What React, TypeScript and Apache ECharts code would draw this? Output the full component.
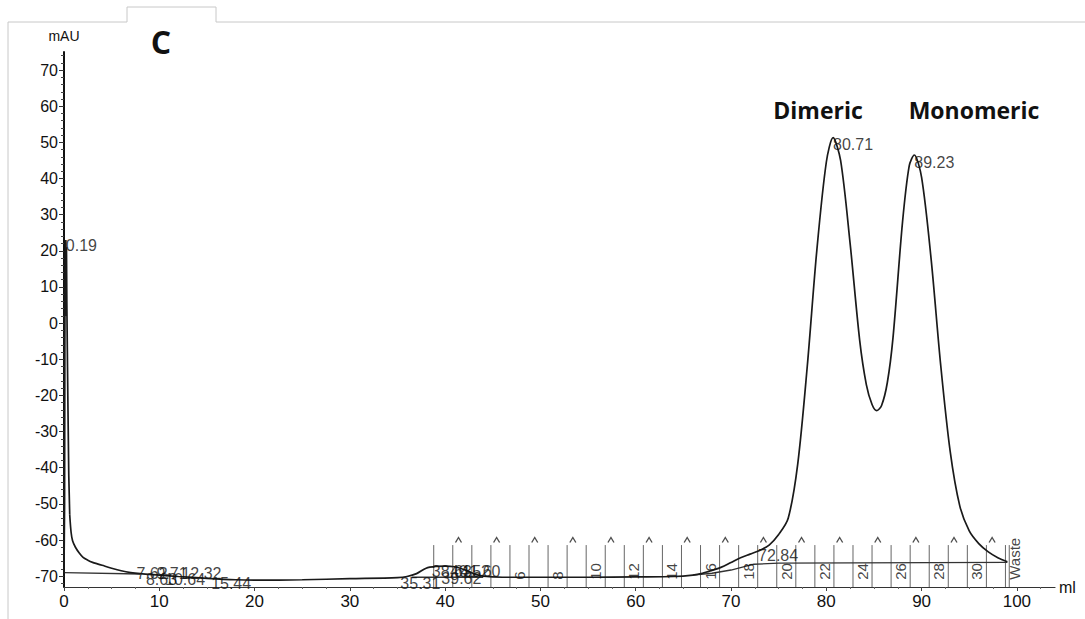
import React, { useEffect, useRef } from "react";
import * as echarts from "echarts";

// UV trace (ml, mAU)
const uvMl = [0, 0.06, 0.09, 0.12, 0.15, 0.19, 0.22, 0.26, 0.3, 0.4, 0.5, 0.6, 0.75, 0.9, 1.2, 1.6, 2, 2.5, 3, 3.5, 4, 5, 6, 7, 8, 10, 12, 15, 18, 20, 25, 30, 35, 36, 37, 38, 39, 40, 41, 42, 43, 44, 46, 50, 55, 60, 64, 66, 67, 68, 69, 70, 71, 72, 73, 74, 75, 76, 77, 78, 79, 80, 80.71, 81.5, 82.5, 83.5, 84.2, 84.8, 85.3, 85.8, 86.4, 87, 88, 88.7, 89.23, 90, 91, 92, 93, 94, 95, 96, 97, 98, 99];
const uvMau = [-69.2, -50, -5, 20, 2, 23, 4, 21, 5, -20, -42, -53, -58, -60.2, -62, -63.6, -64.8, -65.6, -66.2, -66.6, -67, -67.8, -68.5, -69, -69.3, -69.7, -70.1, -70.6, -71, -71.1, -71, -70.7, -70.4, -70.1, -69.3, -67.8, -67.3, -67.2, -67.4, -68.2, -69.3, -70, -70.3, -70.3, -70.3, -70.2, -70.1, -69.7, -69.2, -68.4, -67.5, -66.2, -64.9, -63.9, -62.9, -61.4, -58.5, -54, -39, -12, 20, 44.5, 51.3, 45, 22, -4.7, -17, -22.5, -24.2, -22.8, -16.5, -4, 28, 43.5, 46.5, 40.3, 17.7, -11.5, -35.5, -50.5, -57.5, -61, -63.3, -64.9, -66];
// injection spike part (drawn without smoothing) ends at this volume
const spikeEndMl = 0.6;

// second (baseline) trace, null = break
const baseMl = [0, 8, null, 36.5, 44, null, 66, 68, 70, 72.4, 75, 99];
const baseMau = [-69, -69.4, null, -70.3, -70.3, null, -69.7, -69.2, -68.3, -66.7, -66.4, -66.2];

// peak labels: ml, label level (mAU), text
const peakMl = [0.19, 80.71, 89.23, 72.84, 7.6, 8.6, 9.7, 10.6, 12.32, 15.44, 35.3, 38.6, 39.6, 40.5, 41.6];
const peakLevel = [21.5, 49.3, 44.3, -64.4, -69.3, -71, -69.3, -71, -69.3, -72, -72, -68.6, -70.6, -68.6, -68.6];
const peakText = ["0.19", "80.71", "89.23", "72.84", "7.62", "8.63", "9.71", "10.64", "12.32", "15.44", "35.31", "38.63", "39.62", "40.52", "41.60"];

// fractions
const fractionLines = [38.8, 40.8, 42.8, 44.8, 46.8, 48.8, 50.8, 52.8, 54.8, 56.8, 58.8, 60.8, 62.8, 64.8, 66.8, 68.8, 70.8, 72.8, 74.8, 76.8, 78.8, 80.8, 82.8, 84.8, 86.8, 88.8, 90.8, 92.8, 94.8, 96.8, 98.8, 99.2];
const fractionLabelMl = [47.8, 51.8, 55.8, 59.8, 63.8, 67.8, 71.8, 75.8, 79.8, 83.8, 87.8, 91.8, 95.8, 99.7];
const fractionLabelText = ["6", "8", "10", "12", "14", "16", "18", "20", "22", "24", "26", "28", "30", "Waste"];
const caretMl = [41.4, 45.4, 49.4, 53.4, 57.4, 61.4, 65.4, 69.4, 73.4, 77.4, 81.4, 85.4, 89.4, 93.4, 97.4];

const xTicks = [0, 10, 20, 30, 40, 50, 60, 70, 80, 90, 100];
const yTicks = [-70, -60, -50, -40, -30, -20, -10, 0, 10, 20, 30, 40, 50, 60, 70];

const FONT = "Liberation Sans, Arial, sans-serif";

export default function App() {
  const ref = useRef<HTMLDivElement>(null);
  useEffect(() => {
    if (!ref.current) return;
    const chart = echarts.init(ref.current, null, { renderer: "svg" });
    const uvData = uvMl.map((x, i) => [x, uvMau[i]]);
    const spikeData = uvData.filter((d) => d[0] <= spikeEndMl);
    const restData = uvData.filter((d) => d[0] >= spikeEndMl);
    const baseData = baseMl.map((x, i) => (x === null ? [null, null] : [x, baseMau[i]]));
    const peakData = peakMl.map((x, i) => [x, peakLevel[i], peakText[i]]);
    const fracTop = -61.4;
    const fracBottom = -73;
    chart.setOption({
      animation: false,
      backgroundColor: "#fff",
      grid: { left: 64, right: 30, top: 52, bottom: 32 },
      xAxis: {
        type: "value",
        min: 0,
        max: 104,
        splitNumber: 10,
        name: "ml",
        nameLocation: "end",
        nameGap: 4,
        nameTextStyle: { color: "#111", fontSize: 16, fontFamily: FONT, verticalAlign: "middle" },
        axisLine: { onZero: false, lineStyle: { color: "#333", width: 1.2 } },
        axisTick: { customValues: xTicks, length: 4, lineStyle: { color: "#444" } },
        minorTick: { show: true, splitNumber: 4, length: 2, lineStyle: { color: "#666" } },
        axisLabel: { customValues: xTicks, color: "#111", fontSize: 17, fontFamily: FONT, margin: 6 },
        splitLine: { show: false },
        minorSplitLine: { show: false },
      },
      yAxis: {
        type: "value",
        min: -73,
        max: 75,
        splitNumber: 15,
        name: "mAU",
        nameLocation: "end",
        nameGap: 9,
        nameTextStyle: { color: "#111", fontSize: 14, fontFamily: FONT },
        axisLine: { onZero: false, lineStyle: { color: "#111", width: 2 } },
        axisTick: { customValues: yTicks, length: 5, lineStyle: { color: "#333" } },
        minorTick: { show: true, splitNumber: 5, length: 3, lineStyle: { color: "#444" } },
        axisLabel: { customValues: yTicks, color: "#111", fontSize: 16, fontFamily: FONT, margin: 6 },
        splitLine: { show: false },
        minorSplitLine: { show: false },
      },
      graphic: [
        { type: "line", shape: { x1: 8, y1: 22, x2: 127, y2: 22 }, style: { stroke: "#c8c8c8", lineWidth: 1 } },
        { type: "line", shape: { x1: 127, y1: 7, x2: 216, y2: 7 }, style: { stroke: "#c8c8c8", lineWidth: 1 } },
        { type: "line", shape: { x1: 127, y1: 7, x2: 127, y2: 22 }, style: { stroke: "#c8c8c8", lineWidth: 1 } },
        { type: "line", shape: { x1: 216, y1: 7, x2: 216, y2: 22 }, style: { stroke: "#c8c8c8", lineWidth: 1 } },
        { type: "line", shape: { x1: 216, y1: 22, x2: 1085, y2: 22 }, style: { stroke: "#c8c8c8", lineWidth: 1 } },
        { type: "line", shape: { x1: 8, y1: 22, x2: 8, y2: 619 }, style: { stroke: "#c8c8c8", lineWidth: 1 } },
        { type: "text", x: 161, y: 41, style: { text: "C", font: "bold 32px 'Open Sans', sans-serif", fill: "#111", textAlign: "center", textVerticalAlign: "middle" } },
        { type: "text", x: 818, y: 110, style: { text: "Dimeric", font: "bold 23px 'Open Sans', sans-serif", fill: "#111", textAlign: "center", textVerticalAlign: "middle" } },
        { type: "text", x: 974, y: 110, style: { text: "Monomeric", font: "bold 23px 'Open Sans', sans-serif", fill: "#111", textAlign: "center", textVerticalAlign: "middle" } },
      ],
      series: [
        {
          type: "custom",
          name: "fractions",
          silent: true,
          data: fractionLines.map((x) => [x]),
          renderItem: (params: any, api: any) => {
            const x = api.value(0);
            const p0 = api.coord([x, fracBottom]);
            const p1 = api.coord([x, fracTop]);
            return {
              type: "line",
              shape: { x1: p0[0], y1: p0[1], x2: p1[0], y2: p1[1] },
              style: { stroke: "#666", lineWidth: 1 },
            };
          },
          z: 1,
        },
        {
          type: "scatter",
          name: "carets",
          silent: true,
          data: caretMl.map((x) => [x, -60]),
          symbol: "path://M0 6 L3 0 L6 6",
          symbolSize: [6, 5],
          itemStyle: { color: "transparent", borderColor: "#222", borderWidth: 1.2 },
          z: 2,
        },
        {
          type: "line",
          name: "baseline",
          data: baseData,
          showSymbol: false,
          connectNulls: false,
          lineStyle: { color: "#333", width: 1.3 },
          z: 3,
        },
        {
          type: "line",
          name: "UV spike",
          data: spikeData,
          showSymbol: false,
          lineStyle: { color: "#1a1a1a", width: 1.7 },
          z: 4,
        },
        {
          type: "line",
          name: "UV",
          data: restData,
          showSymbol: false,
          smooth: 0.3,
          lineStyle: { color: "#1a1a1a", width: 1.7 },
          z: 4,
        },
        {
          type: "scatter",
          name: "peakLabels",
          silent: true,
          data: peakData,
          symbolSize: 0,
          label: {
            show: true,
            position: "right",
            distance: 0,
            formatter: (p: any) => p.data[2],
            color: "#111",
            fontSize: 16,
            fontFamily: FONT,
          },
          z: 5,
        },
        {
          type: "scatter",
          name: "fractionLabels",
          silent: true,
          data: fractionLabelMl.map((x, i) => [x, -71, fractionLabelText[i]]),
          symbolSize: 0,
          label: {
            show: true,
            position: "inside",
            rotate: 90,
            align: "left",
            verticalAlign: "middle",
            formatter: (p: any) => p.data[2],
            color: "#111",
            fontSize: 15,
            fontFamily: FONT,
          },
          z: 5,
        },
      ],
    });
    return () => chart.dispose();
  }, []);
  return <div ref={ref} style={{ position: "fixed", left: 0, top: 0, width: 1085, height: 619 }} />;
}
